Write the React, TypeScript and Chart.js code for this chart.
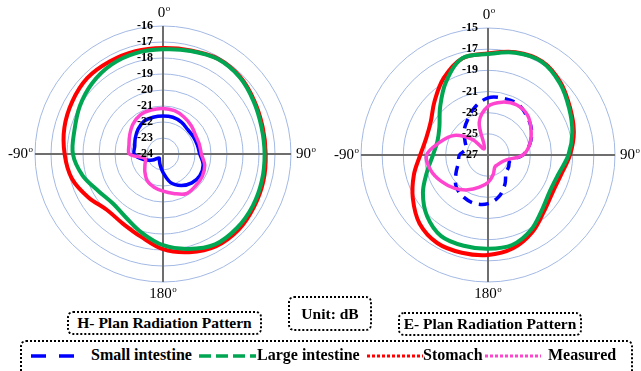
import React, { useEffect, useRef } from "react";
import { Chart, registerables } from "chart.js";

Chart.register(...registerables);

// ---------- data ----------
const ANGLES = [0, 15, 30, 45, 60, 75, 90, 105, 120, 135, 150, 165, 180, 195, 210, 225, 240, 255, 270, 285, 300, 315, 330, 345];
const ANGLE_MARKS = ["0", "90", "180", "-90"];

const SERIES_NAMES = ["Small intestine", "Large intestine", "Stomach", "Measured"];

// H-plane (left)
const H_TICK_LABELS = ["-24", "-23", "-22", "-21", "-20", "-19", "-18", "-17", "-16"];
const H_SMALL = [-21.62, -21.62, -21.7, -21.83, -21.82, -21.78, -21.7, -21.4, -21.33, -21.45, -21.73, -22.15, -22.85, -23.3, -23.55, -23.65, -23.25, -22.7, -22.2, -22.17, -22.0, -21.8, -21.63, -21.62];
const H_LARGE = [-17.46, -17.33, -17.15, -17.22, -17.45, -17.62, -17.65, -17.6, -17.52, -17.46, -17.48, -17.86, -18.3, -18.9, -19.4, -19.6, -19.35, -18.8, -18.37, -18.27, -18.0, -17.74, -17.55, -17.47];
const H_STOMACH = [-17.38, -17.3, -17.12, -17.18, -17.4, -17.55, -17.58, -17.5, -17.42, -17.31, -17.35, -17.65, -18.05, -18.65, -18.98, -19.05, -18.6, -18.1, -17.85, -17.62, -17.45, -17.3, -17.33, -17.35];
const H_MEASURED = [-21.15, -21.2, -21.35, -21.5, -21.65, -21.65, -21.6, -21.3, -21.17, -21.15, -21.13, -21.45, -21.68, -21.85, -22.05, -22.4, -22.7, -22.85, -21.9, -21.8, -21.6, -21.35, -21.17, -21.15];

// E-plane (right)
const E_TICK_LABELS = ["-27", "-25", "-23", "-21", "-19", "-17", "-15"];
const E_SMALL = [-21.6, -21.45, -21.42, -21.8, -22.25, -22.9, -23.7, -24.85, -24.75, -24.6, -23.8, -22.95, -22.4, -22.25, -22.4, -22.75, -23.5, -24.1, -24.3, -24.85, -24.5, -23.8, -23.15, -22.3];
const E_LARGE = [-17.46, -17.0, -16.83, -17.4, -18.15, -18.75, -19.4, -20.1, -20.23, -19.75, -18.85, -18.2, -18.14, -18.12, -18.15, -18.85, -19.9, -21.05, -21.8, -22.05, -21.7, -20.6, -19.05, -17.55];
const E_STOMACH = [-17.4, -16.95, -16.78, -17.3, -18.05, -18.6, -19.25, -19.85, -19.95, -19.5, -18.6, -17.87, -17.55, -17.44, -17.4, -17.85, -18.8, -19.75, -20.6, -20.95, -20.75, -19.85, -18.62, -17.55];
const E_MEASURED = [-22.4, -21.83, -21.55, -21.7, -22.3, -22.9, -23.7, -25.2, -25.6, -25.7, -25.7, -25.1, -24.4, -23.85, -23.2, -22.55, -21.95, -21.4, -21.2, -22.3, -23.3, -24.9, -26.3, -23.8];

// ---------- styles ----------
const BLUE = "#0000ff";
const GREEN = "#00a651";
const RED = "#ff0000";
const PINK = "#ff45cf";
const GRID = "#a3b9e4";
const AXIS = "#6e6e6e";
const SERIF = '"Liberation Serif", "Times New Roman", serif';

function drawDeg(ctx: CanvasRenderingContext2D, txt: string, x: number, y: number, align: string) {
  ctx.font = `15px ${SERIF}`;
  const w1 = ctx.measureText(txt).width;
  ctx.font = `9px ${SERIF}`;
  const w2 = ctx.measureText("o").width;
  const total = w1 + w2 + 0.5;
  const x0 = align === "left" ? x : align === "right" ? x - total : x - total / 2;
  ctx.textAlign = "left";
  ctx.textBaseline = "middle";
  ctx.font = `15px ${SERIF}`;
  ctx.fillText(txt, x0, y);
  ctx.font = `9px ${SERIF}`;
  ctx.fillText("o", x0 + w1 + 0.5, y - 4);
}

const polarText = {
  id: "polarText",
  afterDraw(chart: any, _args: any, opts: any) {
    const s = chart.scales.r;
    const ctx: CanvasRenderingContext2D = chart.ctx;
    const cx = s.xCenter;
    const cy = s.yCenter;
    const R = s.drawingArea;
    ctx.save();
    ctx.fillStyle = "#000";
    ctx.font = `bold 12px ${SERIF}`;
    ctx.textAlign = "right";
    ctx.textBaseline = "middle";
    (opts.tickLabels as string[]).forEach((lab) => {
      const d = s.getDistanceFromCenterForValue(parseFloat(lab));
      ctx.fillText(lab, cx - 10, cy - d);
    });
    drawDeg(ctx, ANGLE_MARKS[0], cx + 1, cy - R - 13, "center");
    drawDeg(ctx, ANGLE_MARKS[1], cx + R + 5, cy, "left");
    drawDeg(ctx, ANGLE_MARKS[2], cx, cy + R + 12, "center");
    drawDeg(ctx, ANGLE_MARKS[3], cx - R - 2, cy, "right");
    ctx.restore();
  },
};

type PolarProps = {
  left: number;
  width: number;
  height: number;
  padding: { left: number; right: number; top: number; bottom: number };
  series: number[][];
  tickLabels: string[];
  step: number;
  blueDash: number[];
};

function PolarChart(p: PolarProps) {
  const ref = useRef<HTMLCanvasElement>(null);
  useEffect(() => {
    const colors = [BLUE, GREEN, RED, PINK];
    const widths = [3.5, 4, 4, 3.5];
    const orders = [2, 3, 4, 1];
    const datasets = p.series.map((vals, i) => ({
      label: SERIES_NAMES[i],
      data: vals,
      borderColor: colors[i],
      backgroundColor: colors[i],
      borderWidth: widths[i],
      borderDash: i === 0 ? p.blueDash : [],
      fill: false,
      pointRadius: 0,
      tension: 0.35,
      order: orders[i],
    }));
    const min = parseFloat(p.tickLabels[0]);
    const max = parseFloat(p.tickLabels[p.tickLabels.length - 1]);
    const chart = new Chart(ref.current as HTMLCanvasElement, {
      type: "radar",
      data: { labels: ANGLES.map(String), datasets },
      options: {
        responsive: false,
        animation: false,
        layout: { padding: p.padding },
        plugins: {
          legend: { display: false },
          tooltip: { enabled: false },
          polarText: { tickLabels: p.tickLabels },
        } as any,
        scales: {
          r: {
            min,
            max,
            ticks: { display: false, stepSize: p.step },
            pointLabels: { display: false },
            grid: { circular: true, color: GRID, lineWidth: 1 },
            angleLines: {
              display: true,
              color: AXIS,
              lineWidth: (c: any) => (c.index % 6 === 0 ? 2 : 0),
            },
          },
        },
      } as any,
      plugins: [polarText as any],
    });
    return () => chart.destroy();
  }, []);
  return (
    <canvas
      ref={ref}
      width={p.width}
      height={p.height}
      style={{ position: "absolute", left: p.left, top: 0, width: p.width, height: p.height }}
    />
  );
}

const boxStyle = (left: number, top: number, width: number, height: number): React.CSSProperties => ({
  position: "absolute",
  left,
  top,
  width,
  height,
  boxSizing: "border-box",
  border: "2px dotted #000",
  borderRadius: 6,
  display: "flex",
  alignItems: "center",
  justifyContent: "center",
  font: `bold 15.5px ${SERIF}`,
  color: "#000",
  whiteSpace: "nowrap",
});

const legendText = (left: number): React.CSSProperties => ({
  position: "absolute",
  left,
  top: 346,
  font: `bold 16px ${SERIF}`,
  color: "#000",
  whiteSpace: "nowrap",
  lineHeight: "18px",
});

export default function App() {
  return (
    <div style={{ position: "absolute", left: 0, top: 0, width: 641, height: 371, overflow: "hidden", background: "#fff" }}>
      <PolarChart
        left={0}
        width={322}
        height={300}
        padding={{ left: 35, right: 31, top: 26, bottom: 18 }}
        series={[H_SMALL, H_LARGE, H_STOMACH, H_MEASURED]}
        tickLabels={H_TICK_LABELS}
        step={1}
        blueDash={[]}
      />
      <PolarChart
        left={322}
        width={319}
        height={300}
        padding={{ left: 39, right: 26, top: 28, bottom: 18 }}
        series={[E_SMALL, E_LARGE, E_STOMACH, E_MEASURED]}
        tickLabels={E_TICK_LABELS}
        step={2}
        blueDash={[10, 7]}
      />
      <div style={boxStyle(67, 311, 195, 24)}>H- Plan Radiation Pattern</div>
      <div style={boxStyle(288, 296, 84, 35)}>Unit: dB</div>
      <div style={boxStyle(398, 312, 184, 24)}>E- Plan Radiation Pattern</div>
      <div
        style={{
          position: "absolute",
          left: 20,
          top: 340,
          width: 613,
          height: 50,
          boxSizing: "border-box",
          border: "2px dotted #000",
          borderRadius: 6,
        }}
      />
      <svg style={{ position: "absolute", left: 0, top: 340 }} width={641} height={31}>
        <line x1={31} y1={16} x2={87} y2={16} stroke={BLUE} strokeWidth={3.5} strokeDasharray="15 13" />
        <line x1={199} y1={16} x2={256} y2={16} stroke={GREEN} strokeWidth={3.5} strokeDasharray="12 5" />
        <line x1={367} y1={16} x2={423} y2={16} stroke={RED} strokeWidth={3} strokeDasharray="3 2" />
        <line x1={485} y1={16} x2={541} y2={16} stroke={PINK} strokeWidth={3} strokeDasharray="3 2" />
      </svg>
      <div style={legendText(91)}>{SERIES_NAMES[0]}</div>
      <div style={legendText(257)}>{SERIES_NAMES[1]}</div>
      <div style={legendText(423)}>{SERIES_NAMES[2]}</div>
      <div style={legendText(548)}>{SERIES_NAMES[3]}</div>
    </div>
  );
}
